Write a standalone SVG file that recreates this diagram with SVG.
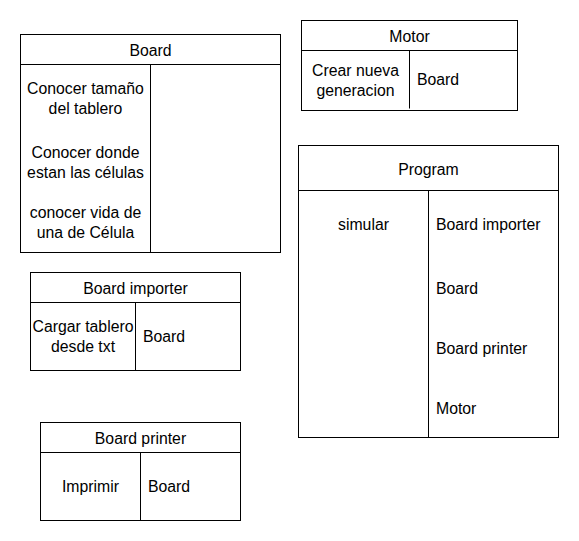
<svg xmlns="http://www.w3.org/2000/svg" width="579" height="541" viewBox="0 0 579 541">
<style>
.box{fill:#fff;stroke:#000;stroke-width:1}
.ln{stroke:#000;stroke-width:1;fill:none}
text{font-family:"Liberation Sans",Arial,Helvetica,sans-serif;font-size:15.8px;fill:#000;dominant-baseline:central}
.c{text-anchor:middle}
.l{text-anchor:start}
</style>
<rect width="579" height="541" fill="#fff"/>
<g id="board">
<rect class="box" x="20.5" y="34.5" width="260" height="218"/>
<line class="ln" x1="20.5" y1="64.5" x2="280.5" y2="64.5"/>
<line class="ln" x1="150.5" y1="64.5" x2="150.5" y2="252.5"/>
<text class="c" x="150.5" y="50">Board</text>
<text class="c" x="85.5" y="88">Conocer tamaño</text>
<text class="c" x="85.5" y="108">del tablero</text>
<text class="c" x="85.5" y="152">Conocer donde</text>
<text class="c" x="85.5" y="172">estan las células</text>
<text class="c" x="85.5" y="212">conocer vida de</text>
<text class="c" x="85.5" y="232">una de Célula</text>
</g>
<g id="motor">
<rect class="box" x="301.5" y="20.5" width="216" height="90"/>
<line class="ln" x1="301.5" y1="50.5" x2="517.5" y2="50.5"/>
<line class="ln" x1="409.5" y1="50.5" x2="409.5" y2="108.5"/>
<text class="c" x="409.5" y="36">Motor</text>
<text class="c" x="355.5" y="70">Crear nueva</text>
<text class="c" x="355.5" y="90">generacion</text>
<text class="l" x="417" y="79">Board</text>
</g>
<g id="program">
<rect class="box" x="298.5" y="145.5" width="260" height="292"/>
<line class="ln" x1="298.5" y1="190.5" x2="558.5" y2="190.5"/>
<line class="ln" x1="428.5" y1="190.5" x2="428.5" y2="437.5"/>
<text class="c" x="428.5" y="169">Program</text>
<text class="c" x="363.5" y="224">simular</text>
<text class="l" x="436" y="224">Board importer</text>
<text class="l" x="436" y="288">Board</text>
<text class="l" x="436" y="348">Board printer</text>
<text class="l" x="436" y="408">Motor</text>
</g>
<g id="board-importer">
<rect class="box" x="30.5" y="272.5" width="210" height="98"/>
<line class="ln" x1="30.5" y1="302.5" x2="240.5" y2="302.5"/>
<line class="ln" x1="135.5" y1="302.5" x2="135.5" y2="370.5"/>
<text class="c" x="135.5" y="288">Board importer</text>
<text class="c" x="83" y="326">Cargar tablero</text>
<text class="c" x="83" y="346">desde txt</text>
<text class="l" x="143" y="336">Board</text>
</g>
<g id="board-printer">
<rect class="box" x="40.5" y="422.5" width="200" height="98"/>
<line class="ln" x1="40.5" y1="452.5" x2="240.5" y2="452.5"/>
<line class="ln" x1="140.5" y1="452.5" x2="140.5" y2="520.5"/>
<text class="c" x="140.5" y="438">Board printer</text>
<text class="c" x="90.5" y="486">Imprimir</text>
<text class="l" x="148" y="486">Board</text>
</g>
<g id="connectors"></g>
</svg>
